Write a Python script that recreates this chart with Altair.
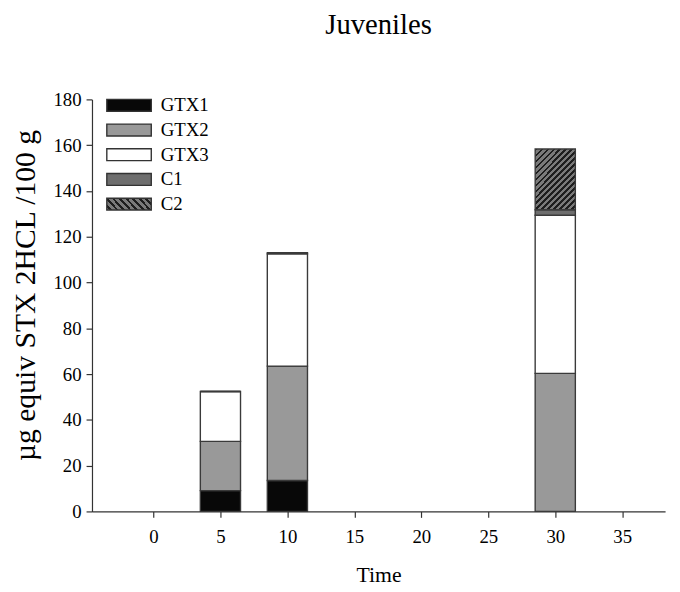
import altair as alt
import pandas as pd

# ---- data ----
times = [5, 10, 30]
series = ["GTX1", "GTX2", "GTX3", "C1", "C2"]
gtx1 = [9.1, 13.5, 0.0]
gtx2 = [21.5, 50.0, 60.3]
gtx3 = [21.8, 49.0, 69.1]
c1 = [0.0, 0.5, 2.4]
c2 = [0.0, 0.0, 26.5]
x_ticks = [0, 5, 10, 15, 20, 25, 30, 35]
y_ticks = [0, 20, 40, 60, 80, 100, 120, 140, 160, 180]

values = {"GTX1": gtx1, "GTX2": gtx2, "GTX3": gtx3, "C1": c1, "C2": c2}
rows = []
for si, s in enumerate(series):
    for t, v in zip(times, values[s]):
        rows.append({"time": t, "series": s, "order": si, "value": v})
df = pd.DataFrame(rows)

# hatch fill for C2 via a striped linear gradient
N = 22
stops = []
for i in range(N):
    a = i / N
    b = (i + 0.42) / N
    c = (i + 1) / N
    stops += [f"{{offset: {a:.4f}, color: '#1e1e1e'}}", f"{{offset: {b:.4f}, color: '#1e1e1e'}}",
              f"{{offset: {b:.4f}, color: '#7a7a7a'}}", f"{{offset: {c:.4f}, color: '#7a7a7a'}}"]
hatch_expr = "{gradient: 'linear', x1: 0, y1: 0, x2: 1, y2: 1.5, stops: [" + ", ".join(stops) + "]}"

colors = ["#080808", "#999999", "#ffffff", "#6e6e6e", alt.ExprRef(hatch_expr)]

FONT = "Liberation Serif"

bars = alt.Chart(df).transform_stack(
    stack="value", groupby=["time"], as_=["y0", "y1"], sort=[alt.SortField("order")]
).transform_calculate(
    xa="datum.time - 1.5", xb="datum.time + 1.5"
).mark_bar(stroke="#3a3a3a", strokeWidth=1.4).encode(
    x=alt.X("xa:Q", scale=alt.Scale(domain=[-4.59, 38.2], nice=False, zero=False),
            axis=alt.Axis(values=x_ticks, title="Time", grid=False, tickSize=6,
                          labelPadding=10, titleFontSize=22, titleY=71,
                          titleBaseline="alphabetic")),
    x2="xb:Q",
    y=alt.Y("y0:Q", scale=alt.Scale(domain=[0, 180], nice=False),
            axis=alt.Axis(values=y_ticks, title="µg  equiv STX  2HCL /100 g", grid=False,
                          tickSize=6, labelPadding=5, titleFontSize=30,
                          titleX=-58, titleY=198, titleAngle=-90,
                          titleAlign="center", titleBaseline="alphabetic")),
    y2="y1:Q",
    color=alt.Color("series:N", scale=alt.Scale(domain=series, range=colors),
                    legend=alt.Legend(title=None, orient="none", legendX=26.5, legendY=-5,
                                      symbolType="M-2.25,-0.6H2.25V0.6H-2.25Z", symbolSize=400,
                                      symbolStrokeColor="#333333", symbolStrokeWidth=1.4,
                                      labelFontSize=19, labelFont=FONT, labelColor="black",
                                      labelOffset=21, rowPadding=4, padding=0,
                                      symbolOpacity=1)),
    order=alt.Order("order:Q"),
)

chart = bars.properties(
    width=580, height=417,
    autosize=alt.AutoSizeParams(type="none"),
    padding={"left": 85, "top": 89, "right": 7, "bottom": 74},
    title=alt.TitleParams("Juveniles", font=FONT, fontSize=29, fontWeight="normal",
                          color="black", anchor="middle", offset=28, baseline="alphabetic"),
).configure_view(stroke=None).configure_axis(
    labelFont=FONT, titleFont=FONT, labelFontSize=19, labelColor="black",
    titleColor="black", titleFontWeight="normal", domainColor="#333333",
    tickColor="#333333", domainWidth=1.2, tickWidth=1.2
)

chart.save("out.html", embed_options={"renderer": "svg", "actions": False})
